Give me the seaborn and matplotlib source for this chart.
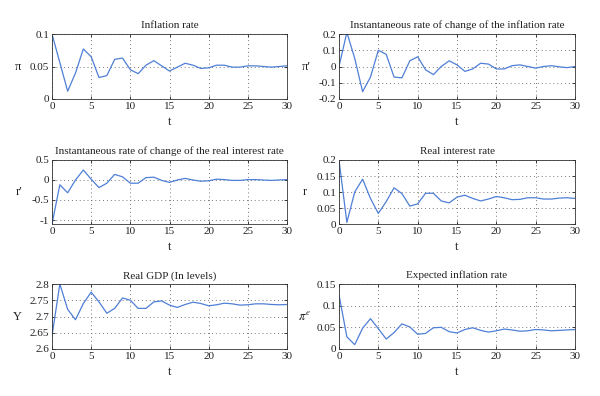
import numpy as np
import pandas as pd
import matplotlib
matplotlib.use("Agg")
import matplotlib.pyplot as plt
import seaborn as sns

t = list(range(31))

inflation = [0.1, 0.056, 0.012, 0.04, 0.077, 0.065, 0.033, 0.036, 0.061, 0.063,
             0.045, 0.039, 0.052, 0.059, 0.051, 0.043, 0.049, 0.055, 0.052, 0.047,
             0.048, 0.052, 0.052, 0.049, 0.049, 0.051, 0.051, 0.05, 0.049, 0.05, 0.051]
d_inflation = [0.0, 0.21, 0.05, -0.155, -0.065, 0.1, 0.075, -0.065, -0.07, 0.035,
               0.06, -0.02, -0.05, 0.0, 0.035, 0.01, -0.03, -0.015, 0.02, 0.015,
               -0.015, -0.015, 0.005, 0.01, 0.0, -0.01, 0.0, 0.005, -0.002, -0.007, 0.0]
d_real_rate = [-1.1, -0.12, -0.32, 0.0, 0.25, 0.02, -0.19, -0.08, 0.14, 0.08,
               -0.08, -0.08, 0.06, 0.07, -0.01, -0.06, 0.0, 0.04, 0.0, -0.03,
               -0.02, 0.02, 0.01, -0.01, -0.01, 0.01, 0.01, 0.0, -0.01, 0.0, 0.01]
real_rate = [0.2, 0.005, 0.1, 0.14, 0.08, 0.033, 0.07, 0.113, 0.095, 0.056,
             0.063, 0.096, 0.096, 0.072, 0.066, 0.084, 0.09, 0.08, 0.072, 0.078,
             0.086, 0.082, 0.076, 0.077, 0.082, 0.082, 0.078, 0.078, 0.081, 0.082, 0.08]
gdp = [2.64, 2.8, 2.722, 2.69, 2.74, 2.775, 2.745, 2.71, 2.725, 2.757,
       2.75, 2.725, 2.725, 2.745, 2.748, 2.735, 2.728, 2.737, 2.744, 2.74,
       2.733, 2.736, 2.741, 2.739, 2.735, 2.736, 2.739, 2.739, 2.737, 2.736, 2.737]
exp_inflation = [0.125, 0.028, 0.01, 0.048, 0.07, 0.047, 0.023, 0.038, 0.058, 0.051,
                 0.034, 0.036, 0.049, 0.05, 0.04, 0.037, 0.045, 0.049, 0.043, 0.039,
                 0.042, 0.046, 0.044, 0.041, 0.042, 0.045, 0.044, 0.042, 0.043, 0.044, 0.045]

titles = ["Inflation rate",
          "Instantaneous rate of change of the inflation rate",
          "Instantaneous rate of change of the real interest rate",
          "Real interest rate",
          "Real GDP (In levels)",
          "Expected inflation rate"]
ylabels = ["π", "π′", "r′", "r", "Y", r"$\pi^e$"]
series = [inflation, d_inflation, d_real_rate, real_rate, gdp, exp_inflation]
ylims = [(0, 0.1), (-0.2, 0.2), (-1.1, 0.5), (0, 0.2), (2.6, 2.8), (0, 0.15)]
yticks = [[0, 0.05, 0.1], [-0.2, -0.1, 0, 0.1, 0.2], [-1, -0.5, 0, 0.5],
          [0, 0.05, 0.1, 0.15, 0.2], [2.6, 2.65, 2.7, 2.75, 2.8], [0, 0.05, 0.1, 0.15]]
yticklabels = [["0", "0.05", "0.1"], ["-0.2", "-0.1", "0", "0.1", "0.2"],
               ["-1", "-0.5", "0", "0.5"], ["0", "0.05", "0.1", "0.15", "0.2"],
               ["2.6", "2.65", "2.7", "2.75", "2.8"], ["0", "0.05", "0.1", "0.15"]]

sns.set_theme(style="ticks")
plt.rcParams["font.family"] = ["Liberation Serif", "DejaVu Serif"]
plt.rcParams["mathtext.fontset"] = "stix"
plt.rcParams["xtick.direction"] = "in"
plt.rcParams["ytick.direction"] = "in"

fig = plt.figure(figsize=(6, 3.96), dpi=100)

boxes = [(52, 34, 287, 99), (339, 34, 575, 99),
         (52, 160, 287, 224), (339, 160, 575, 224),
         (52, 284, 287, 349), (339, 284, 575, 349)]

for i, (l, tp, r, b) in enumerate(boxes):
    ax = fig.add_axes([l / 600, (396 - b) / 396, (r - l) / 600, (b - tp) / 396])
    df = pd.DataFrame({"t": t, "v": series[i]})
    sns.lineplot(data=df, x="t", y="v", ax=ax, color="#4f7fd6", linewidth=0.9)
    ax.set_xlim(0, 30)
    ax.set_ylim(*ylims[i])
    ax.set_xticks(range(0, 31, 5))
    ax.set_yticks(yticks[i])
    ax.set_yticklabels(yticklabels[i])
    ax.tick_params(labelsize=8, length=2.5, width=0.6, top=True, right=True, pad=2,
                   colors="#222222")
    ax.grid(True, linestyle=(0, (1, 3)), color="#777777", linewidth=0.7)
    for s in ax.spines.values():
        s.set_linewidth(0.6)
        s.set_color("#333333")
    ax.set_title(titles[i], fontsize=8, pad=4, color="#222222")
    ax.set_xlabel("t", fontsize=9, labelpad=4, color="#222222")
    ax.set_ylabel(ylabels[i], fontsize=9, rotation=0, labelpad=9, va="center",
                  color="#222222")

fig.savefig("out.png", dpi=100)
